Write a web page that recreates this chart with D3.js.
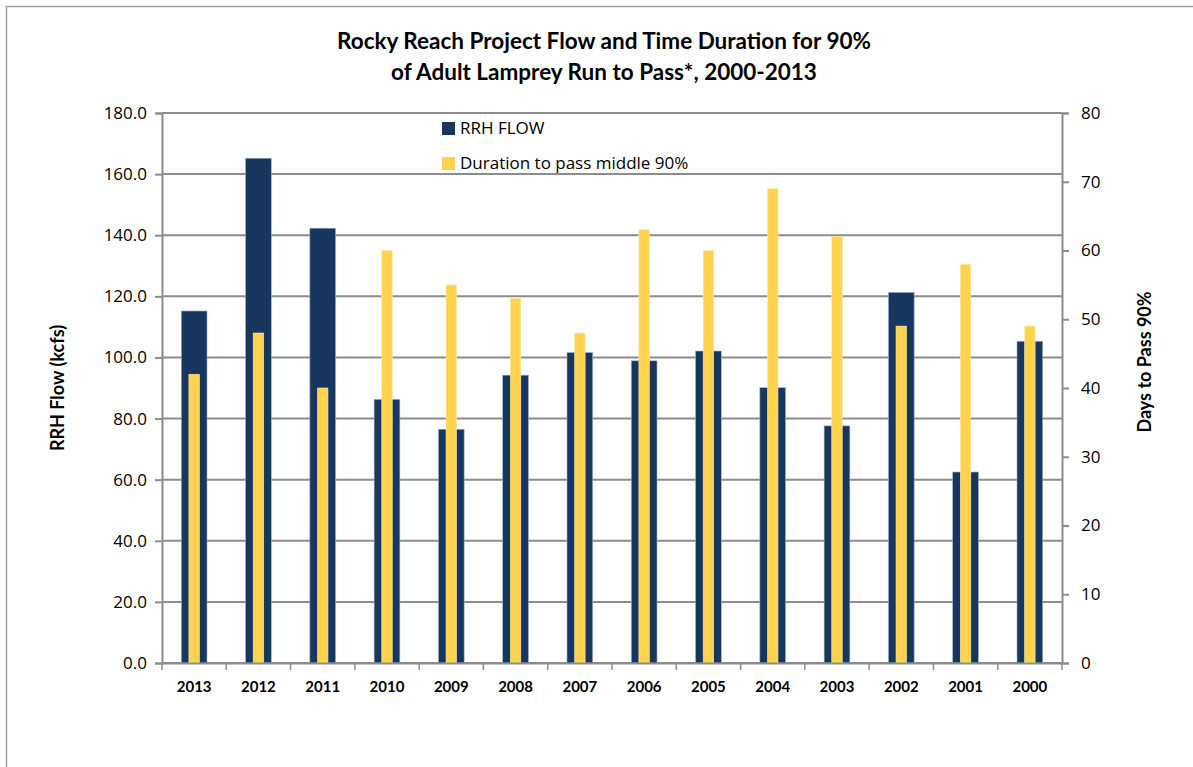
<!DOCTYPE html>
<html>
<head>
<meta charset="utf-8">
<script src="https://cdn.jsdelivr.net/npm/d3@7"></script>
<style>
  body { margin: 0; background: #fff; }
  svg { display: block; }
  text { font-family: Lato, "Open Sans", sans-serif; fill: #000; }
</style>
</head>
<body>
<svg></svg>
<script>
let years = ['2013', '2012', '2011', '2010', '2009', '2008', '2007', '2006', '2005', '2004', '2003', '2002', '2001', '2000']
let flow = [115.2, 165.2, 142.3, 86.3, 76.5, 94.2, 101.6, 98.9, 102.1, 90.1, 77.6, 121.3, 62.5, 105.3]
let days = [42, 48, 40, 60, 55, 53, 48, 63, 60, 69, 62, 49, 58, 49]
let flowTicks = [0, 20, 40, 60, 80, 100, 120, 140, 160, 180]
let dayTicks = [0, 10, 20, 30, 40, 50, 60, 70, 80]

let width = 1193
let height = 767
let plotLeft = 162
let plotRight = 1062
let plotTop = 113
let plotBottom = 663

let navy = '#17375e'
let gold = '#ffd34f'
let grid = '#8c8c8c'

let svg = d3.select('svg')
    .attr('width', width)
    .attr('height', height)

// outer chart border
svg.append('rect')
    .attr('x', 6.5)
    .attr('y', 6.5)
    .attr('width', width + 20)
    .attr('height', height + 20)
    .attr('fill', 'none')
    .attr('stroke', '#a0a0a0')
    .attr('stroke-width', 1.5)

let xScale = d3.scaleBand()
    .domain(years)
    .range([plotLeft, plotRight])
    .paddingInner(0.6)
    .paddingOuter(0.3)

let yLeft = d3.scaleLinear()
    .domain([0, 180])
    .range([plotBottom, plotTop])

let yRight = d3.scaleLinear()
    .domain([0, 80])
    .range([plotBottom, plotTop])

// gridlines
svg.append('g')
    .selectAll('line')
    .data(flowTicks)
    .enter()
    .append('line')
    .attr('x1', plotLeft)
    .attr('x2', plotRight)
    .attr('y1', (d) => yLeft(d))
    .attr('y2', (d) => yLeft(d))
    .attr('stroke', grid)
    .attr('stroke-width', 2)

// flow bars
svg.append('g')
    .selectAll('rect')
    .data(flow)
    .enter()
    .append('rect')
    .attr('x', (d, i) => xScale(years[i]))
    .attr('y', (d) => yLeft(d))
    .attr('width', xScale.bandwidth())
    .attr('height', (d) => plotBottom - yLeft(d))
    .attr('fill', navy)
    .attr('stroke', '#9fb0c8')
    .attr('stroke-width', 0.6)

// duration bars
let thin = 10.5
svg.append('g')
    .selectAll('rect')
    .data(days)
    .enter()
    .append('rect')
    .attr('x', (d, i) => xScale(years[i]) + xScale.bandwidth() / 2 - thin / 2)
    .attr('y', (d) => yRight(d))
    .attr('width', thin)
    .attr('height', (d) => plotBottom - yRight(d))
    .attr('fill', gold)
    .attr('stroke', '#ffe9a6')
    .attr('stroke-width', 0.6)

// left axis
let yAxisLeft = d3.axisLeft(yLeft)
    .tickValues(flowTicks)
    .tickFormat(d3.format('.1f'))
    .tickSize(7)
    .tickPadding(8)
let gl = svg.append('g')
    .attr('transform', 'translate(' + plotLeft + ', 0)')
    .call(yAxisLeft)
gl.select('.domain').attr('stroke', grid).attr('stroke-width', 2)
gl.selectAll('.tick line').attr('stroke', grid).attr('stroke-width', 2)
gl.selectAll('.tick text').style('font-size', '17px').style('font-family', '"Open Sans", sans-serif')

// right axis
let yAxisRight = d3.axisRight(yRight)
    .tickValues(dayTicks)
    .tickSize(7)
    .tickPadding(12)
let gr = svg.append('g')
    .attr('transform', 'translate(' + plotRight + ', 0)')
    .call(yAxisRight)
gr.select('.domain').attr('stroke', grid).attr('stroke-width', 2)
gr.selectAll('.tick line').attr('stroke', grid).attr('stroke-width', 2)
gr.selectAll('.tick text').style('font-size', '17px').style('font-family', '"Open Sans", sans-serif')

// bottom axis with ticks between categories
let xAxis = d3.axisBottom(xScale).tickSize(0).tickPadding(18)
let gx = svg.append('g')
    .attr('transform', 'translate(0, ' + plotBottom + ')')
    .call(xAxis)
gx.select('.domain').attr('stroke', grid).attr('stroke-width', 2)
gx.selectAll('.tick text')
    .style('font-size', '15px')
    .style('font-weight', 'bold')
    .style('font-family', 'Lato, sans-serif')

let step = xScale.step()
svg.append('g')
    .selectAll('line')
    .data(d3.range(years.length + 1))
    .enter()
    .append('line')
    .attr('x1', (d) => plotLeft + d * step)
    .attr('x2', (d) => plotLeft + d * step)
    .attr('y1', plotBottom)
    .attr('y2', plotBottom + 7)
    .attr('stroke', grid)
    .attr('stroke-width', 1.5)

// axis titles
svg.append('text')
    .attr('transform', 'translate(64, 388) rotate(-90)')
    .attr('text-anchor', 'middle')
    .style('font-size', '18px')
    .style('font-weight', 'bold')
    .text('RRH Flow  (kcfs)')

svg.append('text')
    .attr('transform', 'translate(1151, 362) rotate(-90)')
    .attr('text-anchor', 'middle')
    .style('font-size', '18px')
    .style('font-weight', 'bold')
    .text('Days to Pass  90%')

// title
let titleLines = ['Rocky Reach Project Flow and Time Duration for 90%', 'of Adult Lamprey Run to Pass*, 2000-2013']
svg.append('g')
    .selectAll('text')
    .data(titleLines)
    .enter()
    .append('text')
    .attr('x', 604)
    .attr('y', (d, i) => 49 + i * 31)
    .attr('text-anchor', 'middle')
    .style('font-size', '22.5px')
    .style('font-weight', 'bold')
    .text((d) => d)

// legend
let legendItems = [{ name: 'RRH FLOW', color: navy }, { name: 'Duration to pass middle  90%', color: gold }]
let legend = svg.append('g')
    .selectAll('g')
    .data(legendItems)
    .enter()
    .append('g')
    .attr('transform', (d, i) => 'translate(442, ' + (122 + i * 35) + ')')
legend.append('rect')
    .attr('width', 13)
    .attr('height', 13)
    .attr('fill', (d) => d.color)
legend.append('text')
    .attr('x', 18)
    .attr('y', 12)
    .style('font-size', '17px')
    .style('font-family', '"Open Sans", sans-serif')
    .text((d) => d.name)
</script>
</body>
</html>
